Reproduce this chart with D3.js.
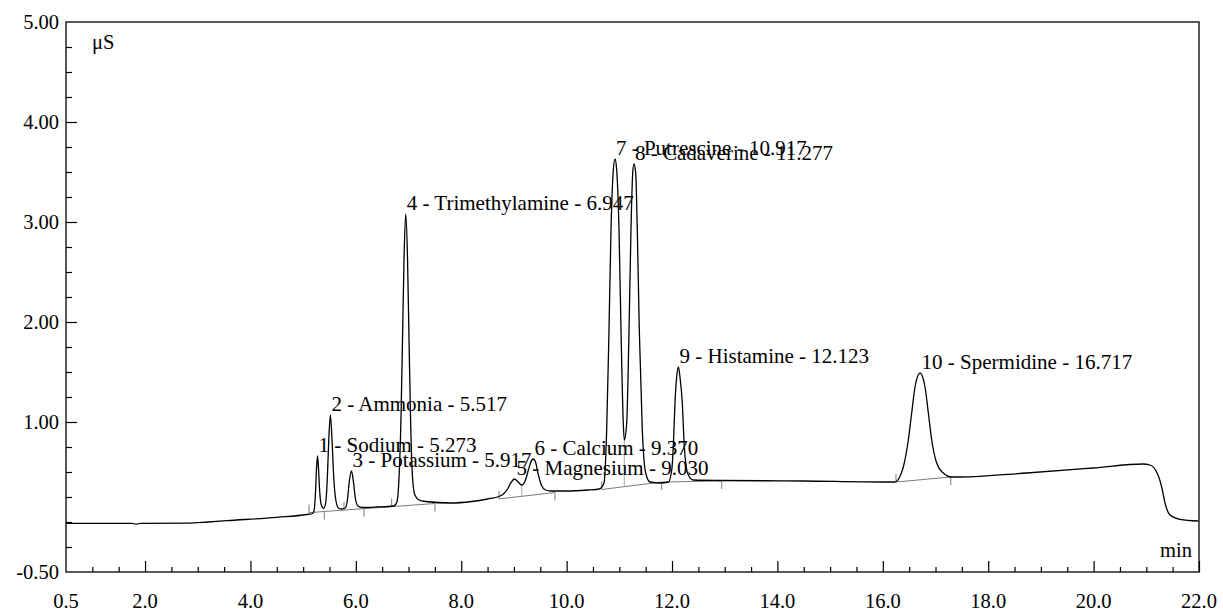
<!DOCTYPE html>
<html>
<head>
<meta charset="utf-8">
<script src="https://cdn.jsdelivr.net/npm/d3@7"></script>
<style>
  html, body { margin: 0; padding: 0; background: #fff; }
  svg { display: block; }
  svg text { font-family: "Liberation Serif", "Tinos", "Times New Roman", "DejaVu Serif", serif; }
</style>
</head>
<body>
<svg id="chart" width="1223" height="612"></svg>
<script>
// conductivity trace (min, µS)
const traceTime = [
  0.5, 1.75, 1.83, 1.91, 2.8, 3.2, 3.55, 4.5, 5.07, 5.18,
  5.21, 5.235, 5.255, 5.273, 5.29, 5.315, 5.345, 5.39,
  5.43, 5.46, 5.485, 5.517, 5.55, 5.58, 5.62, 5.67, 5.72,
  5.80, 5.84, 5.875, 5.917, 5.955, 5.99, 6.04, 6.12, 6.40, 6.72,
  6.78, 6.82, 6.855, 6.885, 6.915, 6.947, 6.98, 7.01, 7.04, 7.075, 7.12, 7.20, 7.32,
  7.8, 8.2, 8.5, 8.72,
  8.80, 8.88, 8.95, 9.01, 9.08, 9.15, 9.22, 9.28, 9.34, 9.37, 9.41, 9.46, 9.52, 9.60, 9.70,
  10.0, 10.40, 10.62,
  10.709, 10.76, 10.804, 10.842, 10.886, 10.918, 10.95, 10.994, 11.032, 11.075, 11.094,
  11.14, 11.184, 11.221, 11.254, 11.278, 11.311, 11.341, 11.379, 11.436, 11.50, 11.582, 11.771,
  11.93, 11.995, 12.024, 12.056, 12.088, 12.121, 12.151, 12.195, 12.233, 12.27, 12.309, 12.404,
  12.91, 14.5, 16.0, 16.231,
  16.31, 16.389, 16.484, 16.548, 16.611, 16.706, 16.801, 16.864, 16.928, 17.022, 17.148, 17.307, 17.464,
  18.73, 19.994, 20.943, 21.07, 21.197, 21.292, 21.355, 21.45, 21.64, 21.987
];
const traceValue = [
  -0.013, -0.013, -0.022, -0.013, -0.012, 0.0, 0.013, 0.047, 0.075, 0.085,
  0.12, 0.30, 0.55, 0.66, 0.55, 0.30, 0.17, 0.137,
  0.20, 0.45, 0.80, 1.07, 0.80, 0.45, 0.22, 0.14, 0.13,
  0.14, 0.22, 0.40, 0.51, 0.40, 0.24, 0.16, 0.145, 0.15, 0.16,
  0.20, 0.45, 1.00, 1.80, 2.65, 3.08, 2.65, 1.80, 1.00, 0.45, 0.27, 0.22, 0.205,
  0.19, 0.205, 0.23, 0.255,
  0.28, 0.33, 0.40, 0.43, 0.40, 0.37, 0.42, 0.53, 0.62, 0.63, 0.60, 0.48, 0.37, 0.32, 0.31,
  0.31, 0.32, 0.33,
  0.39, 0.92, 1.92, 2.92, 3.52, 3.63, 3.52, 2.92, 1.92, 0.99, 0.82,
  0.99, 1.92, 2.92, 3.49, 3.58, 3.49, 2.92, 1.92, 0.92, 0.49, 0.40, 0.39,
  0.40, 0.52, 0.75, 1.19, 1.45, 1.55, 1.45, 1.19, 0.75, 0.55, 0.47, 0.42,
  0.415, 0.41, 0.40, 0.40,
  0.44, 0.55, 0.82, 1.09, 1.35, 1.49, 1.35, 1.09, 0.82, 0.59, 0.49, 0.45, 0.45,
  0.49, 0.54, 0.58, 0.57, 0.50, 0.35, 0.19, 0.07, 0.027, 0.01
];

// peak table
const peakNumber = [1, 2, 3, 4, 5, 6, 7, 8, 9, 10];
const peakName = ["Sodium", "Ammonia", "Potassium", "Trimethylamine", "Magnesium",
  "Calcium", "Putrescine", "Cadaverine", "Histamine", "Spermidine"];
const peakTime = [5.273, 5.517, 5.917, 6.947, 9.030, 9.370, 10.917, 11.277, 12.123, 16.717];
const peakHeight = [0.66, 1.07, 0.51, 3.08, 0.43, 0.63, 3.63, 3.58, 1.55, 1.49];

// integration baselines (grey), delimiters and drop lines
const baseStartTime = [5.111, 8.717, 10.665, 11.804, 16.25];
const baseStartValue = [0.094, 0.231, 0.325, 0.40, 0.40];
const baseEndTime = [7.502, 9.779, 11.804, 12.943, 17.29];
const baseEndValue = [0.185, 0.295, 0.40, 0.41, 0.45];
const markerTime = [5.111, 5.401, 5.775, 6.155, 6.680, 7.502, 8.717, 9.779, 10.665, 11.804, 12.943, 16.25, 17.29];
const markerDir = [1, -1, 1, -1, 1, -1, 1, -1, 1, -1, -1, 1, -1];
const dropTime = [9.15, 11.094];
const dropValue = [0.37, 0.82];

// axes
const xMajorTicks = [2, 4, 6, 8, 10, 12, 14, 16, 18, 20, 22];
const xLabelTicks = [0.5, 2, 4, 6, 8, 10, 12, 14, 16, 18, 20, 22];
const yLabelTicks = [-0.5, 1, 2, 3, 4, 5];

const svg = d3.select("#chart");
const plotLeft = 66, plotRight = 1199, plotTop = 22, plotBottom = 572;
const serif = "Liberation Serif, Tinos, Times New Roman, DejaVu Serif, serif";

const x = d3.scaleLinear().domain([0.5, 22]).range([plotLeft, plotRight]);
const y = d3.scaleLinear().domain([-0.5, 5]).range([plotBottom, plotTop]);

// ticks point into the plot
svg.append("g")
  .attr("transform", `translate(0,${plotBottom})`)
  .call(d3.axisBottom(x).tickValues(d3.range(1, 22, 0.5).filter((t) => t % 2 !== 0))
    .tickSizeInner(-5).tickSizeOuter(0).tickFormat(""))
  .call((g) => g.select(".domain").remove());
svg.append("g")
  .attr("transform", `translate(0,${plotBottom})`)
  .call(d3.axisBottom(x).tickValues(xMajorTicks).tickSizeInner(-11).tickSizeOuter(0).tickFormat(""))
  .call((g) => g.select(".domain").remove());
svg.append("g")
  .attr("transform", `translate(${plotLeft},0)`)
  .call(d3.axisLeft(y).tickValues(d3.range(-0.25, 5, 0.25).filter((v) => v % 1 !== 0 || v === 0))
    .tickSizeInner(-6).tickSizeOuter(0).tickFormat(""))
  .call((g) => g.select(".domain").remove());
svg.append("g")
  .attr("transform", `translate(${plotLeft},0)`)
  .call(d3.axisLeft(y).tickValues([1, 2, 3, 4]).tickSizeInner(-11).tickSizeOuter(0).tickFormat(""))
  .call((g) => g.select(".domain").remove());

svg.selectAll(".tick line").attr("stroke", "#000").attr("stroke-width", 1.2);

// tick labels
svg.append("g")
  .selectAll("text")
  .data(xLabelTicks)
  .join("text")
  .attr("x", (d) => x(d))
  .attr("y", 608)
  .attr("text-anchor", "middle")
  .attr("font-family", serif)
  .attr("font-size", 20.5)
  .text((d) => d.toFixed(1));

svg.append("g")
  .selectAll("text")
  .data(yLabelTicks)
  .join("text")
  .attr("x", 59)
  .attr("y", (d) => y(d) + 7)
  .attr("text-anchor", "end")
  .attr("font-family", serif)
  .attr("font-size", 20.5)
  .text((d) => d.toFixed(2));

// frame
svg.append("rect")
  .attr("x", plotLeft).attr("y", plotTop)
  .attr("width", plotRight - plotLeft).attr("height", plotBottom - plotTop)
  .attr("fill", "none").attr("stroke", "#000").attr("stroke-width", 1.3);

svg.append("text").attr("x", 92).attr("y", 49)
  .attr("font-family", serif).attr("font-size", 20.5).text("μS");
svg.append("text").attr("x", 1192).attr("y", 557).attr("text-anchor", "end")
  .attr("font-family", serif).attr("font-size", 20.5).text("min");

// integration baselines
function baselineAt(t) {
  for (let i = 0; i < baseStartTime.length; i++) {
    if (t >= baseStartTime[i] - 1e-6 && t <= baseEndTime[i] + 1e-6) {
      const f = (t - baseStartTime[i]) / (baseEndTime[i] - baseStartTime[i]);
      return baseStartValue[i] + f * (baseEndValue[i] - baseStartValue[i]);
    }
  }
  return 0;
}

const grey = svg.append("g").attr("stroke", "#7a7a7a").attr("stroke-width", 1);
grey.selectAll("line.base")
  .data(d3.range(baseStartTime.length))
  .join("line")
  .attr("class", "base")
  .attr("x1", (i) => x(baseStartTime[i]))
  .attr("y1", (i) => y(baseStartValue[i]))
  .attr("x2", (i) => x(baseEndTime[i]))
  .attr("y2", (i) => y(baseEndValue[i]));

grey.selectAll("line.mark")
  .data(d3.range(markerTime.length))
  .join("line")
  .attr("class", "mark")
  .attr("x1", (i) => x(markerTime[i]))
  .attr("x2", (i) => x(markerTime[i]))
  .attr("y1", (i) => y(baselineAt(markerTime[i])))
  .attr("y2", (i) => y(baselineAt(markerTime[i])) - 8 * markerDir[i]);

grey.selectAll("line.drop")
  .data(d3.range(dropTime.length))
  .join("line")
  .attr("class", "drop")
  .attr("stroke", "#a8a8a8")
  .attr("x1", (i) => x(dropTime[i]))
  .attr("x2", (i) => x(dropTime[i]))
  .attr("y1", (i) => y(baselineAt(dropTime[i])))
  .attr("y2", (i) => y(dropValue[i]));

// trace
const line = d3.line()
  .x((i) => x(traceTime[i]))
  .y((i) => y(traceValue[i]))
  .curve(d3.curveMonotoneX);

svg.append("path")
  .datum(d3.range(traceTime.length))
  .attr("d", line)
  .attr("fill", "none")
  .attr("stroke", "#000")
  .attr("stroke-width", 1.3);

// peak labels
svg.append("g")
  .selectAll("text")
  .data(d3.range(peakNumber.length))
  .join("text")
  .attr("x", (i) => x(peakTime[i]) + 1)
  .attr("y", (i) => y(peakHeight[i]) - 4)
  .attr("font-family", serif)
  .attr("font-size", 21)
  .text((i) => `${peakNumber[i]} - ${peakName[i]} - ${peakTime[i].toFixed(3)}`);
</script>
</body>
</html>
